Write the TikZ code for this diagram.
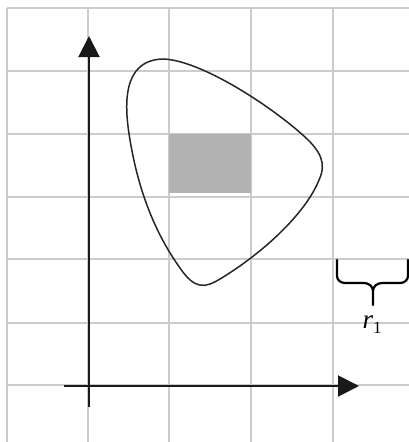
\documentclass[tikz,border=0pt]{standalone}
\usepackage{fontspec}
\newfontfamily\timesfont{Liberation Serif}
\usetikzlibrary{arrows.meta}
\begin{document}
\begin{tikzpicture}[x=1pt,y=-1pt,
  gridline/.style={draw=black!20,line width=1.3pt},
  axis/.style={draw=black!90,line width=2pt,-{Triangle[width=21pt,length=21pt]}},
  blob/.style={draw=black!85,line width=1.5pt,line join=round},
  bracepath/.style={draw=black,line width=2.2pt,line cap=round,line join=round}]
\useasboundingbox (0,0) rectangle (409,442);
\fill[white] (0,0) rectangle (409,442);
% grid
\foreach \x in {7,88,169,251,333} \draw[gridline] (\x,8) -- (\x,442);
\foreach \y in {8,71,134,197,259,323,385} \draw[gridline] (7,\y) -- (409,\y);
% shaded cell
\fill[black!30] (169,134) rectangle (251,193);
% closed curve
\draw[blob] (163,59) .. controls (200,60) and (270,105) .. (305,137)
  .. controls (320,151) and (327,163) .. (319,180)
  .. controls (305,215) and (260,255) .. (220,279)
  .. controls (205,288) and (195,290) .. (180,268)
  .. controls (160,240) and (140,200) .. (130,140)
  .. controls (124,105) and (122,60) .. (163,59) -- cycle;
% axes
\coordinate (yo) at (89,407);
\coordinate (yt) at (89,36);
\coordinate (xo) at (64,386);
\coordinate (xt) at (359,386);
\draw[axis] (yo) -- (yt);
\draw[axis] (xo) -- (xt);
% brace
\coordinate (bl) at (337,260);
\coordinate (br) at (408,260);
\coordinate (bm) at (373,305);
\draw[bracepath] (bl) -- (337,276) to[out=-90,in=180] (345,283) -- (364,283)
  to[out=0,in=90] (373,291) -- (bm);
\draw[bracepath] (br) -- (408,276) to[out=-90,in=0] (400,283) -- (382,283)
  to[out=180,in=90] (373,291);
\node[inner sep=0pt,anchor=base] (r1) at (372,328)
  {\timesfont{\fontsize{27}{29}\selectfont\itshape r}{\fontsize{17}{19}\selectfont\raisebox{-5pt}{1}}};
\end{tikzpicture}
\end{document}
